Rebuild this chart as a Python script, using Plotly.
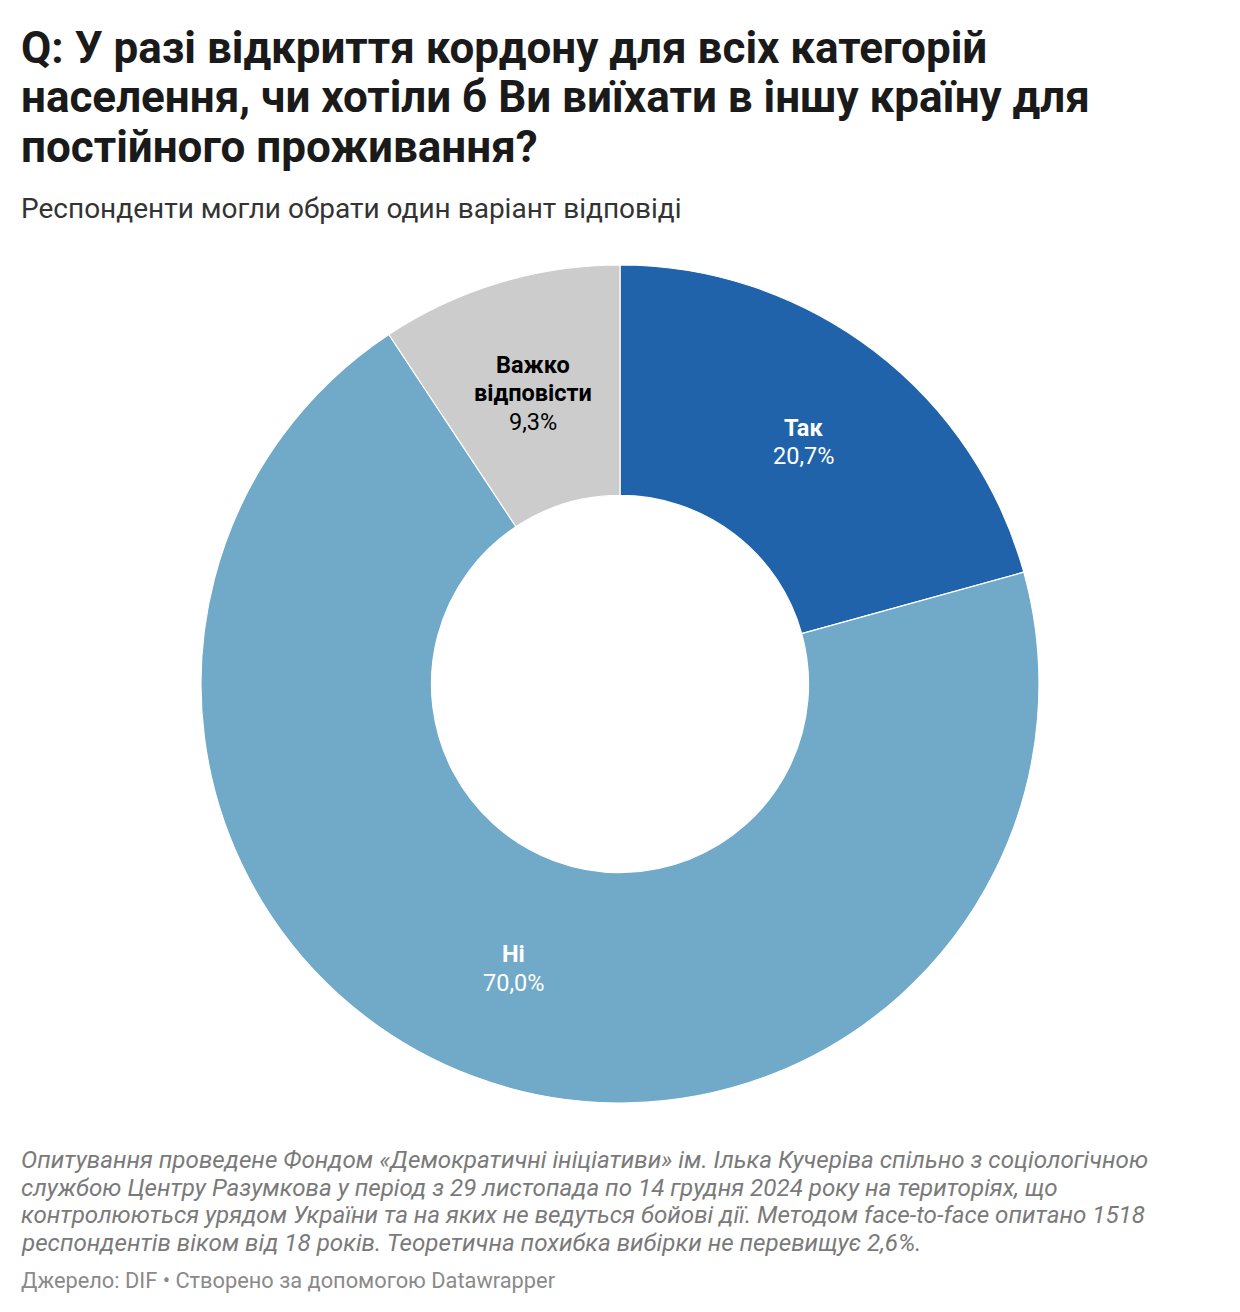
import math
import plotly.graph_objects as go

W, H = 1240, 1312

categories = ["Так", "Ні", "Важко відповісти"]
label_lines = [["Так"], ["Ні"], ["Важко", "відповісти"]]
values = [20.7, 70.0, 9.3]
value_labels = ["20,7%", "70,0%", "9,3%"]
colors = ["#2063aa", "#71a9c9", "#cccccc"]
label_colors = ["#ffffff", "#ffffff", "#000000"]

title_lines = [
    "Q: У разі відкриття кордону для всіх категорій",
    "населення, чи хотіли б Ви виїхати в іншу країну для",
    "постійного проживання?",
]
subtitle = "Респонденти могли обрати один варіант відповіді"
notes_lines = [
    "Опитування проведене Фондом «Демократичні ініціативи» ім. Ілька Кучеріва спільно з соціологічною",
    "службою Центру Разумкова у період з 29 листопада по 14 грудня 2024 року на територіях, що",
    "контролюються урядом України та на яких не ведуться бойові дії. Методом face-to-face опитано 1518",
    "респондентів віком від 18 років. Теоретична похибка вибірки не перевищує 2,6%.",
]
source = "Джерело: DIF • Створено за допомогою Datawrapper"

# pie geometry (pixels)
top_px, bot_px = 265, 1103
cx_px = W / 2
cy_px = (top_px + bot_px) / 2
R = (bot_px - top_px) / 2
hole = 0.45
dom_y = [(H - bot_px) / H, (H - top_px) / H]

fig = go.Figure(go.Pie(
    labels=categories,
    values=values,
    sort=False,
    direction="clockwise",
    rotation=0,
    hole=hole,
    marker=dict(colors=colors, line=dict(color="#ffffff", width=1.2)),
    textinfo="none",
    hoverinfo="label+percent",
    showlegend=False,
    domain=dict(x=[0, 1], y=dom_y),
))

FONT = "Roboto"
ann = []


def px_to_paper(x, y):
    return x / W, 1 - y / H


# slice labels at middle of ring
total = sum(values)
cum = 0
r_mid = R * (1 + hole) / 2
LH = 28.5
for lines, v, vl, col in zip(label_lines, values, value_labels, label_colors):
    mid = (cum + v / 2) / total * 2 * math.pi
    cum += v
    x = cx_px + r_mid * math.sin(mid)
    y = cy_px - r_mid * math.cos(mid)
    rows = [(f"<b>{t}</b>") for t in lines] + [vl]
    n = len(rows)
    for k, txt in enumerate(rows):
        yy = y + (k - (n - 1) / 2) * LH
        px, py = px_to_paper(x, yy)
        ann.append(dict(
            x=px, y=py, xref="paper", yref="paper", xanchor="center", yanchor="middle",
            text=txt, showarrow=False, align="center",
            font=dict(family=FONT, size=23.5, color=col),
        ))

# title lines
for i, line in enumerate(title_lines):
    ycen = 47.5 + i * 49.5
    px, py = px_to_paper(19, ycen)
    ann.append(dict(
        x=px, y=py, xref="paper", yref="paper", xanchor="left", yanchor="middle",
        text=f"<b>{line}</b>", showarrow=False,
        font=dict(family=FONT, size=44, color="#1a1a1a"),
    ))

px, py = px_to_paper(19, 208)
ann.append(dict(
    x=px, y=py, xref="paper", yref="paper", xanchor="left", yanchor="middle",
    text=subtitle, showarrow=False,
    font=dict(family=FONT, size=28, color="#333333"),
))

for i, line in enumerate(notes_lines):
    ycen = 1160 + i * 27.7
    px, py = px_to_paper(19, ycen)
    ann.append(dict(
        x=px, y=py, xref="paper", yref="paper", xanchor="left", yanchor="middle",
        text=f"<i>{line}</i>", showarrow=False,
        font=dict(family=FONT, size=24.2, color="#7a7a7a"),
    ))

px, py = px_to_paper(19, 1280)
ann.append(dict(
    x=px, y=py, xref="paper", yref="paper", xanchor="left", yanchor="middle",
    text=source, showarrow=False,
    font=dict(family=FONT, size=21.8, color="#8a8a8a"),
))

fig.update_layout(
    width=W, height=H,
    margin=dict(l=0, r=0, t=0, b=0),
    paper_bgcolor="#ffffff",
    plot_bgcolor="#ffffff",
    annotations=ann,
    font=dict(family=FONT),
)

fig.write_html("out.html", config=dict(displayModeBar=False))
